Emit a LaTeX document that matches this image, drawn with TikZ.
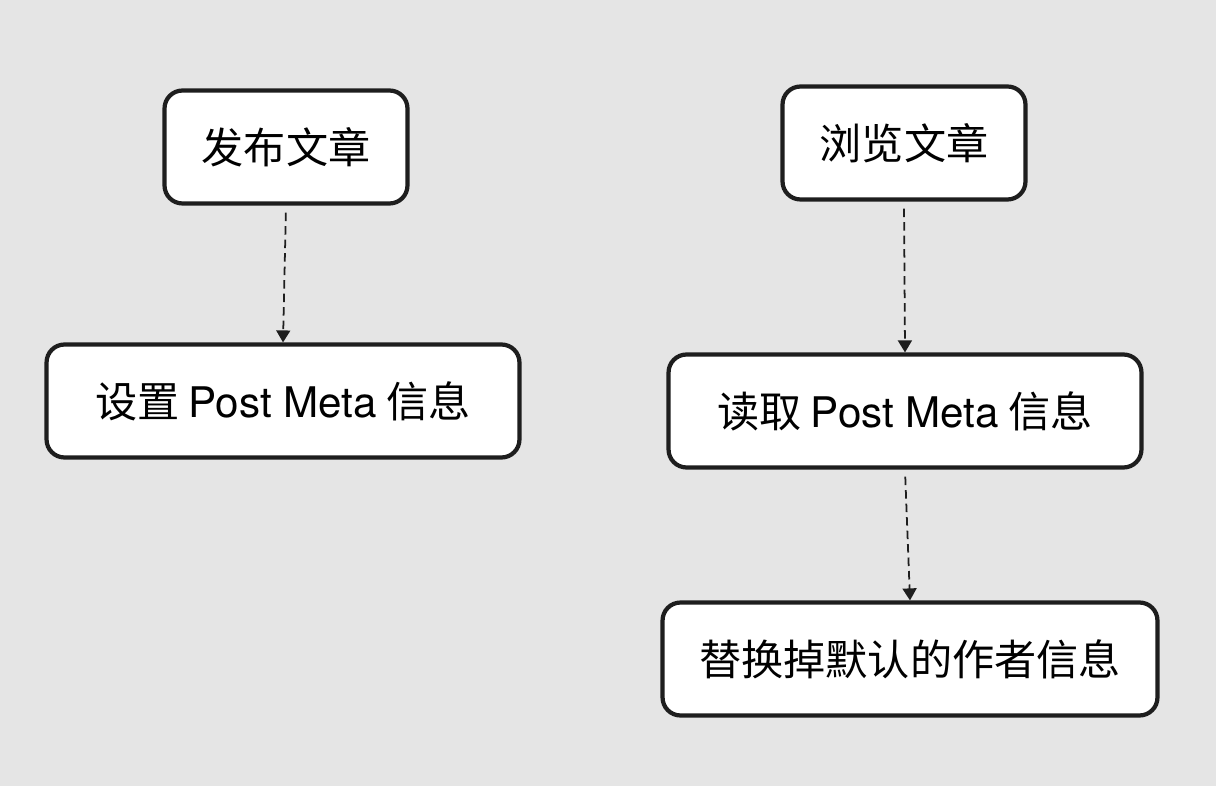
\documentclass[tikz,border=0pt]{standalone}
\usepackage{fontspec}
\setmainfont{Noto Sans CJK SC}
\newfontfamily\latinfont{TeX Gyre Heros}
\usetikzlibrary{arrows.meta}
\definecolor{bggray}{HTML}{E5E5E5}
\definecolor{inkgray}{HTML}{1E1E1E}
\begin{document}
\begin{tikzpicture}[x=0.02cm,y=-0.02cm,
	stepbox/.style={draw=inkgray,fill=white,rounded corners=0.36cm,line width=2.4pt,
					minimum height=2.26cm,inner sep=0pt,text=black,
					font=\fontsize{24}{29}\selectfont},
	flow/.style={draw=inkgray,line width=1pt,dash pattern=on 0.17cm off 0.1cm,
					-{Triangle[length=0.24cm,width=0.28cm]},shorten <=0.14cm}]
	\fill[bggray] (0,0) rectangle (1216,786);
	\useasboundingbox (0,0) rectangle (1216,786);
	% left column
	\node[stepbox,minimum width=4.86cm] (publish) at (286,147) {发布文章};
	\node[stepbox,minimum width=9.46cm] (setmeta) at (283,401) {设置 {\latinfont Post Meta} 信息};
	% right column
	\node[stepbox,minimum width=4.86cm] (browse) at (904,143) {浏览文章};
	\node[stepbox,minimum width=9.46cm] (readmeta) at (905,411) {读取 {\latinfont Post Meta} 信息};
	\node[stepbox,minimum width=9.9cm] (replace) at (910,659) {替换掉默认的作者信息};
	\draw[flow] (publish.south) -- (setmeta.north);
	\draw[flow] (browse.south) -- (readmeta.north);
	\draw[flow] (readmeta.south) -- (replace.north);
\end{tikzpicture}
\end{document}
